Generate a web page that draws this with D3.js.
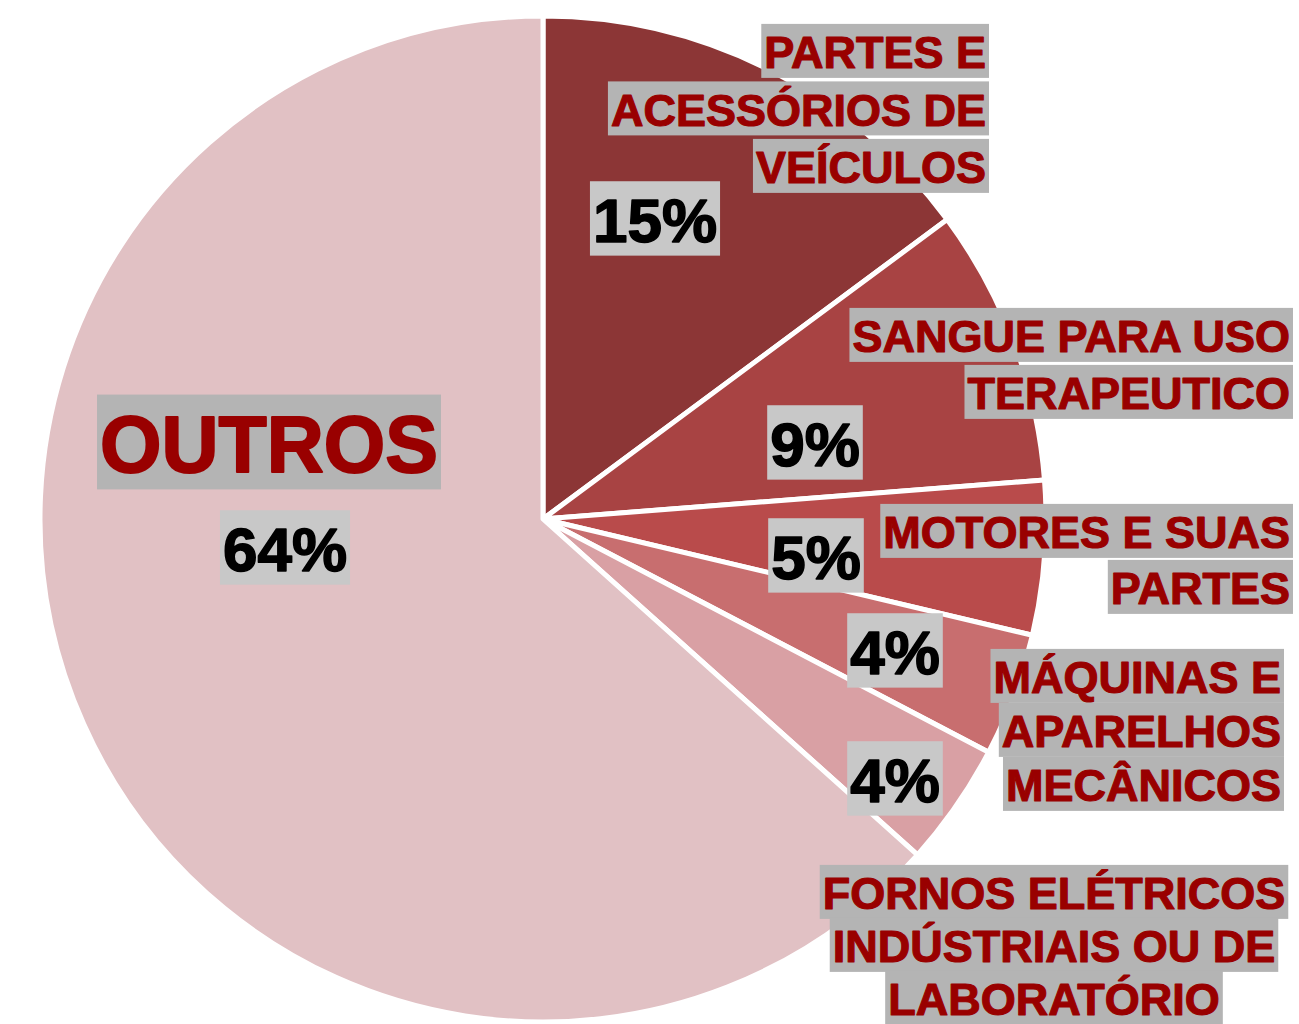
<!DOCTYPE html>
<html>
<head>
<meta charset="utf-8">
<script src="https://cdn.jsdelivr.net/npm/d3@7"></script>
<style>
  body { margin: 0; background: #ffffff; }
</style>
</head>
<body>
<div id="chart"></div>
<script>
const width = 1299;
const height = 1024;

// data
const categories = [
  ["PARTES E", "ACESSÓRIOS DE", "VEÍCULOS"],
  ["SANGUE PARA USO", "TERAPEUTICO"],
  ["MOTORES E SUAS", "PARTES"],
  ["MÁQUINAS E", "APARELHOS", "MECÂNICOS"],
  ["FORNOS ELÉTRICOS", "INDÚSTRIAIS OU DE", "LABORATÓRIO"],
  ["OUTROS"]
];
const values = [15, 9, 5, 4, 4, 64];
const percentLabels = ["15%", "9%", "5%", "4%", "4%", "64%"];

// styles / layout
const sliceColors = ["#8c3636", "#a84343", "#b94b4b", "#c86e6f", "#d9a0a4", "#e1c1c4"];
const cx = 543, cy = 519, radius = 503;
const font = "'Liberation Sans', Arial, sans-serif";

// where each category label sits: anchor x, first baseline, line step, anchor, size
const categoryPos = [
  { x: 986, y: 68, step: 57.5, anchor: "end", size: 45 },
  { x: 1290, y: 352, step: 57, anchor: "end", size: 45 },
  { x: 1290, y: 548, step: 56, anchor: "end", size: 45 },
  { x: 1281, y: 693, step: 54, anchor: "end", size: 45 },
  { x: 1054, y: 909, step: 53, anchor: "middle", size: 45 },
  { x: 269, y: 472, step: 0, anchor: "middle", size: 79 }
];
const percentPos = [
  { x: 655, y: 242 },
  { x: 815, y: 466 },
  { x: 816, y: 579 },
  { x: 895, y: 674 },
  { x: 895, y: 802 },
  { x: 285, y: 571 }
];

const svg = d3.select("#chart")
  .append("svg")
  .attr("width", width)
  .attr("height", height)
  .style("display", "block");

const pie = d3.pie().sort(null).value(d => d);
const arc = d3.arc().innerRadius(0).outerRadius(radius);

svg.append("g")
  .attr("transform", `translate(${cx}, ${cy})`)
  .selectAll("path")
  .data(pie(values))
  .join("path")
  .attr("d", arc)
  .attr("fill", (d, i) => sliceColors[i])
  .attr("stroke", "#ffffff")
  .attr("stroke-width", 5)
  .attr("stroke-linejoin", "round");

// text with a grey box behind each line
function boxedLine(g, str, x, y, anchor, size, color, boxColor) {
  const t = g.append("text")
    .attr("x", x)
    .attr("y", y)
    .attr("text-anchor", anchor)
    .attr("font-family", font)
    .attr("font-weight", "bold")
    .attr("font-size", size)
    .attr("fill", color)
    .attr("stroke", color)
    .attr("stroke-width", size * 0.025)
    .attr("stroke-linejoin", "round")
    .text(str);
  const w = t.node().getComputedTextLength();
  let left = x;
  if (anchor === "end") left = x - w;
  if (anchor === "middle") left = x - w / 2;
  g.insert("rect", "text")
    .attr("x", left - 3)
    .attr("y", y - size * 0.98)
    .attr("width", w + 6)
    .attr("height", Math.min(size * 1.2, height - (y - size * 0.98)))
    .attr("fill", boxColor);
}

const labels = svg.append("g");

categories.forEach((lines, i) => {
  const p = categoryPos[i];
  lines.forEach((line, j) => {
    const g = labels.append("g");
    boxedLine(g, line, p.x, p.y + j * p.step, p.anchor, p.size, "#990000", "#b4b4b4");
  });
});

percentLabels.forEach((lab, i) => {
  const p = percentPos[i];
  const g = labels.append("g");
  boxedLine(g, lab, p.x, p.y, "middle", 62, "#000000", "#c8c8c8");
});
</script>
</body>
</html>
